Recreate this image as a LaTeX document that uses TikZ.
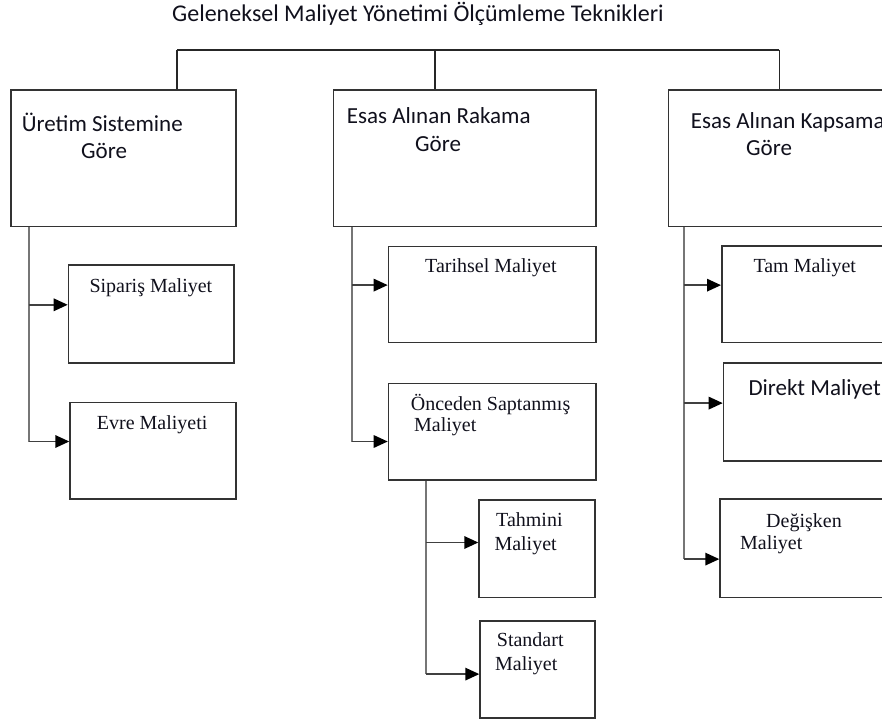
\documentclass[tikz,border=0pt]{standalone}
\usepackage{fontspec}
\setmainfont{Liberation Serif}
\newfontfamily\calibri{Carlito}
\usetikzlibrary{arrows.meta}
\definecolor{boxgray}{HTML}{333333}
\definecolor{trunkgray}{HTML}{767676}
\definecolor{inkdark}{HTML}{10101C}

\begin{document}
\begin{tikzpicture}[x=1pt,y=-1pt,
  box/.style={draw=boxgray, line width=1.6pt, rectangle, inner sep=0pt, anchor=north west},
  sanslbl/.style={inner sep=0pt, anchor=base west, text=inkdark,
    font=\calibri\fontsize{23}{27}\selectfont},
  seriflbl/.style={inner sep=0pt, anchor=base west, text=inkdark,
    font=\fontsize{20}{24}\selectfont},
  bracket/.style={draw=black!85, line width=1.5pt},
  trunk/.style={draw=trunkgray, line width=2pt},
  arr/.style={draw=black!75, line width=1.6pt,
    -{Triangle[length=14pt,width=12.5pt,color=black]}}
]
\useasboundingbox (0,0) rectangle (882,722);
\clip (0,0) rectangle (882,722);

% title
\node[sanslbl, font=\calibri\fontsize{24}{28}\selectfont] (title) at (172,22)
  {Geleneksel Maliyet Yönetimi Ölçümleme Teknikleri};

% main category boxes
\node[box, minimum width=225pt, minimum height=136.7pt] (b1) at (10,89) {};
\node[box, minimum width=262.3pt, minimum height=136.7pt] (b2) at (332.7,89) {};
\node[box, minimum width=232.3pt, minimum height=136.7pt] (b3) at (667.7,89) {};

\node[sanslbl] (b1a) at (21.7,131.7) {Üretim Sistemine};
\node[sanslbl] (b1b) at (81,159) {Göre};
\node[sanslbl] (b2a) at (346.7,124) {Esas Alınan Rakama};
\node[sanslbl] (b2b) at (415,151.7) {Göre};
\node[sanslbl] (b3a) at (690.7,128.3) {Esas Alınan Kapsama};
\node[sanslbl] (b3b) at (746,155.7) {Göre};

% top bracket
\coordinate (j1) at (177,50);
\coordinate (j2) at (435,50);
\coordinate (j3) at (779.3,50);
\draw[bracket] (j1) -- (j3);
\draw[bracket] (j1) -- (j1 |- b1.north);
\draw[bracket] (j2) -- (j2 |- b2.north);
\draw[bracket] (j3) -- (j3 |- b3.north);

% production system branch
\node[box, minimum width=165.6pt, minimum height=98.3pt] (s1) at (67.7,264) {};
\node[box, minimum width=165.7pt, minimum height=96.6pt] (s2) at (69.3,401.7) {};
\node[seriflbl] (s1t) at (89.3,292.3) {Sipariş Maliyet};
\node[seriflbl] (s2t) at (96.7,429) {Evre Maliyeti};

% figure basis branch
\node[box, minimum width=207.3pt, minimum height=96pt] (r1) at (387.7,245.7) {};
\node[box, minimum width=207.3pt, minimum height=96.6pt] (r2) at (387.7,382.7) {};
\node[box, minimum width=116pt, minimum height=97.7pt] (r3) at (478.3,499) {};
\node[box, minimum width=115pt, minimum height=97.3pt] (r4) at (479.3,620) {};
\node[seriflbl] (r1t) at (425,272.3) {Tarihsel Maliyet};
\node[seriflbl] (r2a) at (410.7,410) {Önceden Saptanmış};
\node[seriflbl] (r2b) at (414,431.7) {Maliyet};
\node[seriflbl] (r3a) at (496,526.7) {Tahmini};
\node[seriflbl] (r3b) at (494.3,550) {Maliyet};
\node[seriflbl] (r4a) at (496.7,646) {Standart};
\node[seriflbl] (r4b) at (495,670.7) {Maliyet};

% scope basis branch
\node[box, minimum width=179pt, minimum height=96.7pt] (k1) at (721,245) {};
\node[box, minimum width=177.3pt, minimum height=97.7pt] (k2) at (722.7,362.3) {};
\node[box, minimum width=180.7pt, minimum height=98.4pt] (k3) at (719.3,498.3) {};
\node[seriflbl] (k1t) at (753.3,272.3) {Tam Maliyet};
\node[sanslbl] (k2t) at (748.3,395) {Direkt Maliyet};
\node[seriflbl] (k3a) at (766,527.3) {Değişken};
\node[seriflbl] (k3b) at (740,549.3) {Maliyet};

% trunk lines
\coordinate (t1) at (28.5,0);
\coordinate (t2) at (352,0);
\coordinate (t3) at (425.5,0);
\coordinate (t4) at (683.5,0);

% arrow entry points on the boxes
\coordinate (a1) at ([yshift=9.15pt]s1.west);
\coordinate (a2) at ([yshift=9.3pt]s2.west);
\coordinate (a3) at ([yshift=9.4pt]r1.west);
\coordinate (a4) at ([yshift=-9.7pt]r2.west);
\coordinate (a5) at ([yshift=6.15pt]r3.west);
\coordinate (a6) at ([yshift=-4.65pt]r4.west);
\coordinate (a7) at ([yshift=9pt]k1.west);
\coordinate (a8) at ([yshift=8.85pt]k2.west);
\coordinate (a9) at ([yshift=-10.8pt]k3.west);

\draw[trunk] (b1.south -| t1) -- (a2 -| t1);
\draw[trunk] (b2.south -| t2) -- (a4 -| t2);
\draw[trunk] (r2.south -| t3) -- (a6 -| t3);
\draw[trunk] (b3.south -| t4) -- (a9 -| t4);

\draw[arr] (a1 -| t1) -- (a1);
\draw[arr] (a2 -| t1) -- (a2);
\draw[arr] (a3 -| t2) -- (a3);
\draw[arr] (a4 -| t2) -- (a4);
\draw[arr] (a5 -| t3) -- (a5);
\draw[arr] (a6 -| t3) -- (a6);
\draw[arr] (a7 -| t4) -- (a7);
\draw[arr] (a8 -| t4) -- (a8);
\draw[arr] (a9 -| t4) -- (a9);
\end{tikzpicture}
\end{document}
